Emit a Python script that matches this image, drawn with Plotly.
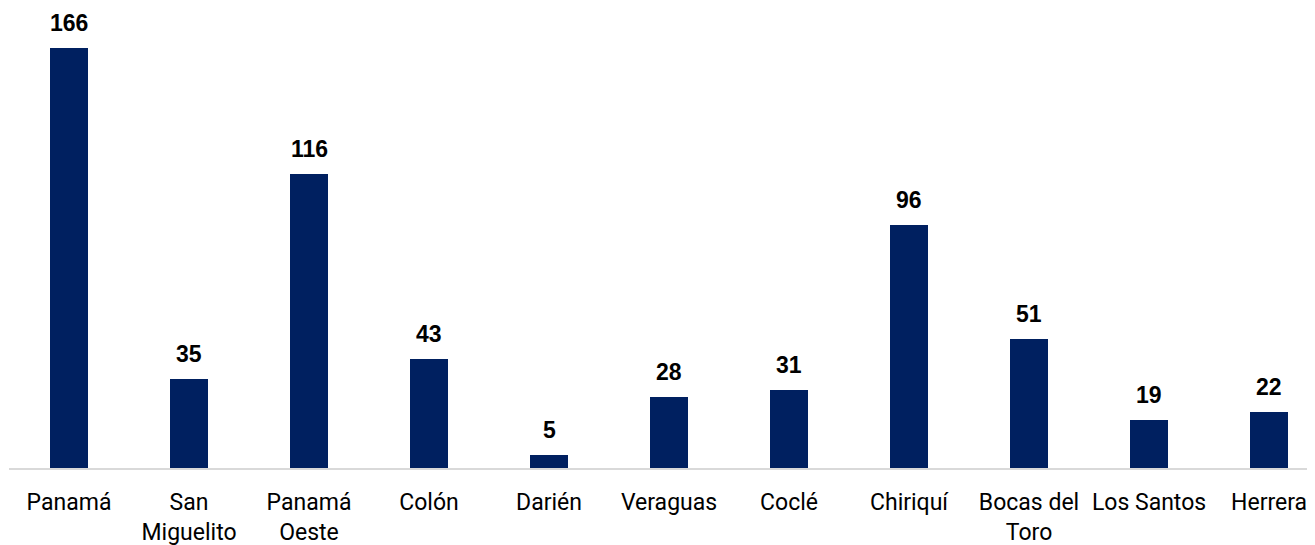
import plotly.graph_objects as go

categories = ["Panamá", "San<br>Miguelito", "Panamá<br>Oeste", "Colón", "Darién", "Veraguas",
              "Coclé", "Chiriquí", "Bocas del<br>Toro", "Los Santos", "Herrera"]
values = [166, 35, 116, 43, 5, 28, 31, 96, 51, 19, 22]

BAR_COLOR = "#002060"

fig = go.Figure()
fig.add_trace(go.Bar(
    x=list(range(len(categories))),
    y=values,
    width=0.317,
    marker=dict(color=BAR_COLOR, line=dict(width=0)),
    showlegend=False,
))

for i, v in enumerate(values):
    fig.add_annotation(
        x=i, y=v, text=str(v), showarrow=False,
        yanchor="bottom", yshift=10,
        font=dict(family="Liberation Sans, Arial", size=23, color="#000000", weight="bold"),
    )

# page has an 8px body margin, so the figure is sized to fit the visible window
fig.update_layout(
    width=1307, height=537,
    margin=dict(l=1, r=0, t=0, b=77),
    plot_bgcolor="white", paper_bgcolor="white",
    bargap=0,
)
fig.update_xaxes(
    tickmode="array", tickvals=list(range(len(categories))), ticktext=categories,
    range=[-0.5, 10.383],
    automargin=False,
    showgrid=False, zeroline=False,
    showline=True, linecolor="#d9d9d9", linewidth=2,
    ticks="", tickangle=0, ticklabelstandoff=12,
    tickfont=dict(family="Roboto, sans-serif", size=23, color="#000000"),
)
fig.update_yaxes(
    range=[0, 181.8], visible=False, showgrid=False, zeroline=False, automargin=False,
)

fig.write_html("out.html")
